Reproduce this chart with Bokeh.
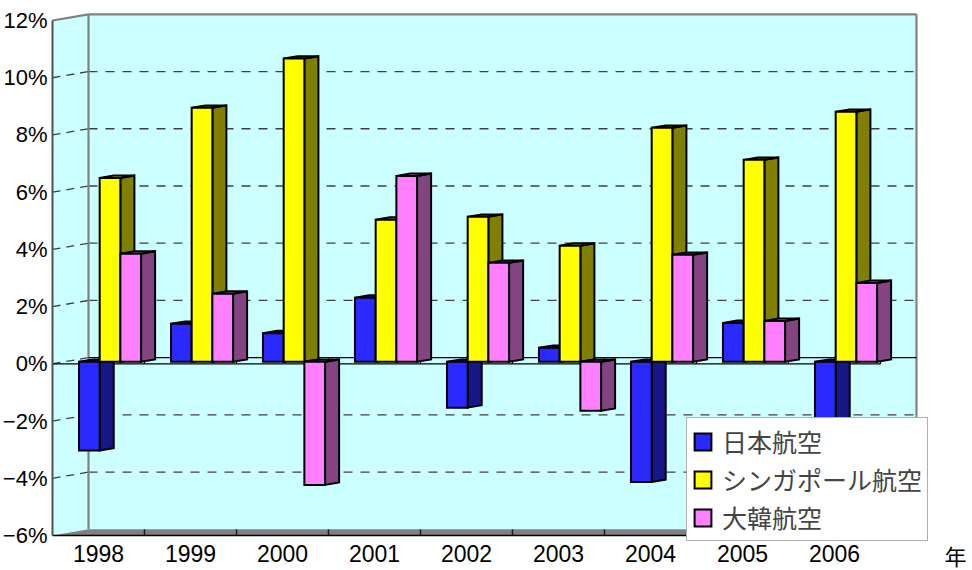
import numpy as np
from bokeh.plotting import figure
from bokeh.models import Range1d, Legend, LegendItem
from bokeh.embed import file_html
from bokeh.resources import INLINE
from bokeh.core.properties import value

# ---------------- data ----------------
years = ["1998", "1999", "2000", "2001", "2002", "2003", "2004", "2005", "2006"]
jal = [-3.1, 1.33, 1.0, 2.24, -1.6, 0.49, -4.2, 1.36, -2.6]      # 日本航空
sia = [6.43, 8.88, 10.6, 4.97, 5.07, 4.06, 8.18, 7.06, 8.74]     # シンガポール航空
kal = [3.78, 2.38, -4.3, 6.5, 3.46, -1.71, 3.74, 1.43, 2.76]     # 大韓航空
series_names = ["日本航空", "シンガポール航空", "大韓航空"]
y_ticks = [-6, -4, -2, 0, 2, 4, 6, 8, 10, 12]
y_tick_labels = ["−6%", "−4%", "−2%", "0%", "2%", "4%", "6%", "8%", "10%", "12%"]
x_unit = "年"

# ---------------- styles ----------------
front_colors = ["#2A2AFF", "#FFFF00", "#FF80FF"]
side_colors = ["#17178A", "#808000", "#844484"]
top_colors = ["#1010C0", "#B0B000", "#B060B0"]
wall_color = "#CCFFFF"
floor_color = "#808080"

W, H = 972, 570
PX_X = 92.0     # pixels per category
PX_Y = 28.61    # pixels per percent
DX = 36.0 / PX_X
DY = 6.2 / PX_Y
F1, F2 = 0.32, 0.71     # bar depth (front/back fraction)
BW = 0.225              # bar width (category units)

N = len(years)
ymin, ymax = y_ticks[0], y_ticks[-1]
x0 = -52.0 / PX_X
ytop = ymin + 535.0 / PX_Y

p = figure(width=W, height=H, output_backend="svg", toolbar_location=None,
           x_range=Range1d(x0, x0 + W / PX_X), y_range=Range1d(ytop - H / PX_Y, ytop),
           min_border=0, x_axis_type=None, y_axis_type=None)
p.outline_line_color = None
p.background_fill_color = "white"
p.border_fill_color = "white"

# ---------------- walls ----------------
p.patches(xs=[[0, DX, DX, 0],
              [DX, N + DX, N + DX, DX]],
          ys=[[ymax, ymax + DY, ymin + DY, ymin],
              [ymin + DY, ymin + DY, ymax + DY, ymax + DY]],
          fill_color=wall_color, line_color=None)
p.patch(x=[0, N, N + DX, DX], y=[ymin, ymin, ymin + DY, ymin + DY],
        fill_color=floor_color, line_color=None)

# gridlines on back wall and left wall
grid_v = [v for v in y_ticks if ymin < v < ymax and v != 0]
p.multi_line(xs=[[DX, N + DX] for v in grid_v], ys=[[v + DY, v + DY] for v in grid_v],
             line_color="#404040", line_width=1.3, line_dash="9 8")
side_v = [v for v in y_ticks if ymin < v < ymax]
p.multi_line(xs=[[0, DX] for v in side_v], ys=[[v, v + DY] for v in side_v],
             line_color="#404040", line_width=1.3, line_dash="8 6")

# wall edges
p.multi_line(xs=[[DX, DX], [DX, N + DX], [N + DX, N + DX], [0, DX]],
             ys=[[ymin + DY, ymax + DY], [ymax + DY, ymax + DY], [ymin + DY, ymax + DY], [ymax, ymax + DY]],
             line_color="#808080", line_width=2.2)

# zero plane
p.multi_line(xs=[[DX, N + DX], [0, N]], ys=[[DY, DY], [0, 0]], line_color="black", line_width=1.2)
p.multi_line(xs=[[i, i] for i in range(1, N + 1)], ys=[[0, DY] for i in range(1, N + 1)],
             line_color="black", line_width=1.2)
# floor ticks and front edge
p.multi_line(xs=[[i, i] for i in range(1, N)], ys=[[ymin, ymin + DY] for i in range(1, N)],
             line_color="#202020", line_width=1.5)
p.line(x=[0, N], y=[ymin, ymin], line_color="black", line_width=1.5)
# front value axis line
p.line(x=[0, 0], y=[ymin, ymax], line_color="#505050", line_width=2)

# ---------------- bars ----------------
series = [jal, sia, kal]
idx = np.arange(N)
front_r = []
geo = []
for k, vals in enumerate(series):
    v = np.array(vals, dtype=float)
    L = idx + 0.5 - 1.5 * BW + k * BW
    R = L + BW
    geo.append((L, R, np.minimum(v, 0), np.maximum(v, 0)))

for k in range(3):
    L, R, bot, top = geo[k]
    xs = [[r + F1 * DX, r + F2 * DX, r + F2 * DX, r + F1 * DX] for r in R]
    ys = [[b + F1 * DY, b + F2 * DY, t + F2 * DY, t + F1 * DY] for b, t in zip(bot, top)]
    p.patches(xs=xs, ys=ys, fill_color=side_colors[k], line_color="black", line_width=2,
              line_join="miter")
for k in range(3):
    L, R, bot, top = geo[k]
    xs = [[l + F1 * DX, r + F1 * DX, r + F2 * DX, l + F2 * DX] for l, r in zip(L, R)]
    ys = [[t + F1 * DY, t + F1 * DY, t + F2 * DY, t + F2 * DY] for t in top]
    p.patches(xs=xs, ys=ys, fill_color=top_colors[k], line_color="black", line_width=2,
              line_join="miter")
for k in range(3):
    L, R, bot, top = geo[k]
    r = p.quad(left=L + F1 * DX, right=R + F1 * DX, bottom=bot + F1 * DY, top=top + F1 * DY,
               fill_color=front_colors[k], line_color="black", line_width=2, line_join="miter")
    front_r.append(r)

# ---------------- texts ----------------
p.text(x=[0] * len(y_ticks), y=y_ticks, text=y_tick_labels, x_offset=-5,
       text_align="right", text_baseline="middle",
       text_font=value("Liberation Sans"), text_font_size="22px", text_color="black")
p.text(x=idx + 0.5, y=[ymin] * N, text=years, y_offset=18,
       text_align="center", text_baseline="middle",
       text_font=value("Liberation Sans"), text_font_size="23px", text_color="black")
p.text(x=[(944 - 52) / PX_X], y=[ymin], text=[x_unit], y_offset=19,
       text_align="left", text_baseline="middle",
       text_font=value("Noto Sans CJK JP"), text_font_size="22px", text_color="black")

# ---------------- legend ----------------
legend = Legend(items=[LegendItem(label=n, renderers=[r]) for n, r in zip(series_names, front_r)],
                location=(686, 29), margin=0, padding=5, spacing=2,
                glyph_width=21, glyph_height=21, label_height=28, label_standoff=9,
                label_text_font="'Liberation Sans', 'Noto Sans CJK JP'", label_text_font_size="25px",
                border_line_color="#606060", border_line_width=1.5,
                background_fill_color="white", background_fill_alpha=1.0)
p.add_layout(legend)

open("out.html", "w").write(file_html(p, INLINE))
